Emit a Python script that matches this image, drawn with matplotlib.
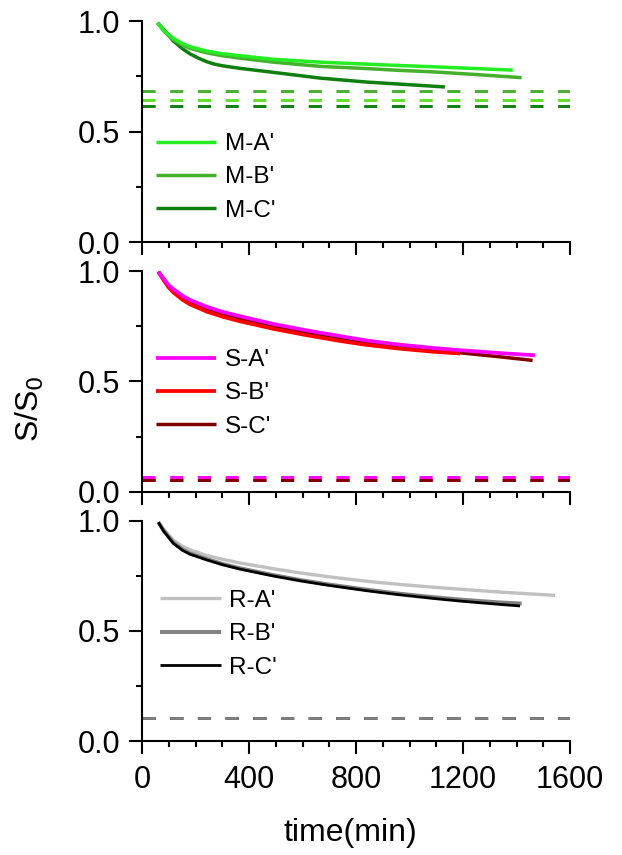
import matplotlib
matplotlib.use("Agg")
import matplotlib.pyplot as plt
from matplotlib.ticker import MultipleLocator, FormatStrFormatter

plt.rcParams['font.family'] = ['Liberation Sans', 'DejaVu Sans']

# ---------------- data ----------------
ma_t = [57, 80, 116, 150, 178, 241, 300, 366, 490, 665, 840, 960, 1090, 1250, 1386]
ma_y = [0.992, 0.958, 0.922, 0.898, 0.884, 0.864, 0.852, 0.843, 0.827, 0.814, 0.805, 0.799, 0.793, 0.785, 0.778]
mb_t = [57, 80, 116, 150, 178, 241, 300, 366, 490, 665, 840, 960, 1090, 1250, 1419]
mb_y = [0.992, 0.955, 0.915, 0.891, 0.877, 0.856, 0.843, 0.832, 0.814, 0.795, 0.785, 0.777, 0.770, 0.758, 0.744]
mc_t = [57, 85, 116, 150, 178, 210, 241, 270, 303, 366, 490, 665, 840, 1000, 1132]
mc_y = [0.992, 0.955, 0.910, 0.875, 0.852, 0.832, 0.816, 0.805, 0.797, 0.786, 0.768, 0.742, 0.724, 0.712, 0.702]

sa_t = [60, 80, 97, 116, 150, 178, 241, 300, 366, 490, 615, 740, 840, 964, 1090, 1200, 1339, 1469]
sa_y = [0.997, 0.965, 0.938, 0.918, 0.888, 0.869, 0.838, 0.815, 0.795, 0.760, 0.731, 0.705, 0.685, 0.666, 0.651, 0.640, 0.628, 0.618]
sb_t = [60, 80, 97, 116, 150, 178, 241, 300, 366, 490, 615, 740, 840, 964, 1090, 1189]
sb_y = [0.997, 0.958, 0.928, 0.903, 0.870, 0.849, 0.816, 0.793, 0.772, 0.738, 0.709, 0.683, 0.665, 0.648, 0.634, 0.626]
sc_t = [60, 80, 97, 116, 150, 178, 241, 300, 366, 490, 615, 740, 840, 964, 1090, 1200, 1339, 1460]
sc_y = [0.997, 0.962, 0.933, 0.910, 0.878, 0.857, 0.825, 0.802, 0.782, 0.748, 0.719, 0.693, 0.674, 0.655, 0.641, 0.628, 0.611, 0.595]

ra_t = [60, 80, 116, 150, 178, 241, 300, 366, 490, 590, 700, 840, 960, 1089, 1200, 1338, 1544]
ra_y = [0.993, 0.960, 0.912, 0.884, 0.868, 0.842, 0.825, 0.808, 0.782, 0.763, 0.745, 0.725, 0.711, 0.698, 0.688, 0.676, 0.661]
rb_t = [60, 80, 116, 150, 178, 241, 300, 366, 490, 590, 700, 840, 960, 1089, 1200, 1338, 1419]
rb_y = [0.993, 0.955, 0.901, 0.870, 0.852, 0.826, 0.804, 0.784, 0.753, 0.731, 0.710, 0.687, 0.669, 0.653, 0.641, 0.629, 0.624]
rc_t = [60, 80, 116, 150, 178, 241, 300, 366, 490, 590, 700, 840, 960, 1089, 1200, 1338, 1413]
rc_y = [0.993, 0.952, 0.897, 0.866, 0.848, 0.822, 0.800, 0.780, 0.749, 0.727, 0.706, 0.682, 0.664, 0.647, 0.634, 0.620, 0.613]

m_labels = ["M-A'", "M-B'", "M-C'"]
s_labels = ["S-A'", "S-B'", "S-C'"]
r_labels = ["R-A'", "R-B'", "R-C'"]

m_colors = ['#22ee22', '#44b02c', '#0e7e0e']
s_colors = ['#ff00ff', '#ff0000', '#800000']
r_colors = ['#c0c0c0', '#808080', '#000000']

# asymptote (dashed) levels
m_dash = [0.643, 0.685, 0.616]
m_dash_colors = ['#5fe02a', '#44b02c', '#0e7e0e']
s_dash = [0.053, 0.053, 0.065]
s_dash_colors = ['#ff0000', '#800000', '#ff00ff']
r_dash = [0.103, 0.103, 0.103]
r_dash_colors = ['#c0c0c0', '#000000', '#808080']

x_ticks = [0, 400, 800, 1200, 1600]
y_ticks = [0.0, 0.5, 1.0]

# ---------------- figure ----------------
fig = plt.figure(figsize=(6.22, 8.55), dpi=100)
W, H = 622, 855
left_px, right_px = 142.3, 570.0
panels_px = [(21, 242.3), (271, 491.7), (520.7, 741)]

panel_data = [
    ([(ma_t, ma_y), (mb_t, mb_y), (mc_t, mc_y)], m_labels, m_colors, m_dash, m_dash_colors,
     (0.031, 0.293), [2.5, 2.5, 2.5], [3, 2, 1]),
    ([(sa_t, sa_y), (sb_t, sb_y), (sc_t, sc_y)], s_labels, s_colors, s_dash, s_dash_colors,
     (0.031, 0.445), [2.7, 2.7, 2.5], [3, 2, 1]),
    ([(ra_t, ra_y), (rb_t, rb_y), (rc_t, rc_y)], r_labels, r_colors, r_dash, r_dash_colors,
     (0.041, 0.484), [2.4, 2.8, 2.0], [1, 2, 3]),
]

for i, ((top, bot), (series, labels, colors, dash, dcols, lpos, lws, zs)) in enumerate(zip(panels_px, panel_data)):
    ax = fig.add_axes([left_px / W, 1 - bot / H, (right_px - left_px) / W, (bot - top) / H])
    for yv, c in zip(dash, dcols):
        ax.axhline(yv, color=c, lw=2.1, linestyle=(0, (4.5, 5.0)), zorder=1)
    handles = []
    for (t, y), lab, c, lw, z in zip(series, labels, colors, lws, zs):
        h, = ax.plot(t, y, color=c, lw=lw, label=lab, zorder=2 + z * 0.1,
                     solid_capstyle='butt', solid_joinstyle='round')
        handles.append(h)
    ax.set_xlim(0, 1600)
    ax.set_ylim(0, 1.0)
    ax.set_xticks(x_ticks)
    ax.set_yticks(y_ticks)
    ax.xaxis.set_minor_locator(MultipleLocator(100))
    ax.yaxis.set_minor_locator(MultipleLocator(0.25))
    ax.yaxis.set_major_formatter(FormatStrFormatter('%.1f'))
    for s in ['top', 'right']:
        ax.spines[s].set_visible(False)
    for s in ['left', 'bottom']:
        ax.spines[s].set_linewidth(1.5)
    ax.tick_params(which='major', direction='out', length=9.4, width=1.5, labelsize=22)
    ax.tick_params(which='minor', direction='out', length=4.3, width=1.5)
    ax.tick_params(axis='y', which='major', pad=6.5)
    ax.tick_params(axis='x', which='major', pad=8.0)
    if i < 2:
        ax.tick_params(axis='x', labelbottom=False)
    leg = ax.legend(handles=handles, loc='center left', bbox_to_anchor=lpos,
                    frameon=False, fontsize=17.5, handlelength=2.5, handletextpad=0.35,
                    labelspacing=0.47, borderpad=0, borderaxespad=0)
    for lh, lw in zip(leg.get_lines(), lws):
        lh.set_linewidth(lw)
    ax.set_facecolor('none')

fig.text(30 / W, 1 - 409 / H, 'S/S$_0$', rotation=90, ha='center', va='center', fontsize=23)
fig.text(350 / W, 1 - 833 / H, 'time(min)', ha='center', va='center', fontsize=23)

fig.savefig('out.png', dpi=100, facecolor='white')
